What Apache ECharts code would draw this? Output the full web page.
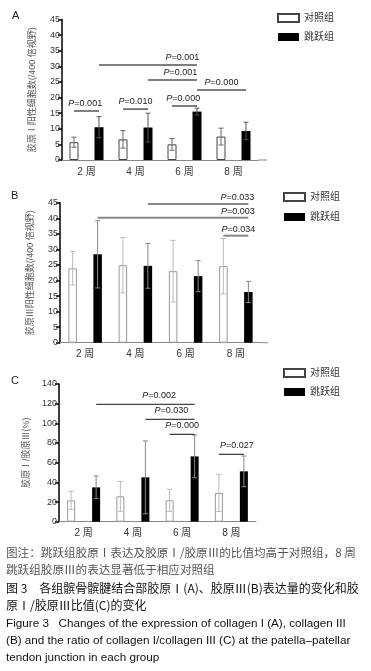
<!DOCTYPE html>
<html>
<head>
<meta charset="utf-8">
<script src="https://cdn.jsdelivr.net/npm/echarts@6/dist/echarts.min.js"></script>
<style>
  body { margin: 0; background: #fff; }
  #main { position: absolute; left: 0; top: 0; width: 371px; height: 545px; }
  #note { position: absolute; left: 6px; top: 544px; width: 365px; white-space: nowrap; }
  #note div { height: 17.4px; line-height: 17.4px; }
  .cn1 { font: 11.6px 'Noto Sans CJK SC', sans-serif; color: #555; }
  .cn2 { font: 12px 'Noto Sans CJK SC', sans-serif; color: #111; }
  .en { font: 11.7px 'Liberation Sans', Arial, sans-serif; color: #111; }
</style>
</head>
<body>
<div id="main"></div>
<div id="note">
  <div class="cn1">图注：跳跃组胶原Ⅰ表达及胶原Ⅰ/胶原Ⅲ的比值均高于对照组，8 周</div>
  <div class="cn1">跳跃组胶原Ⅲ的表达显著低于相应对照组</div>
  <div class="cn2">图 3&emsp;各组髌骨髌腱结合部胶原Ⅰ(A)、胶原Ⅲ(B)表达量的变化和胶</div>
  <div class="cn2">原Ⅰ/胶原Ⅲ比值(C)的变化</div>
  <div class="en">Figure 3&nbsp;&nbsp; Changes of the expression of collagen I (A), collagen III</div>
  <div class="en">(B) and the ratio of collagen I/collagen III (C) at the patella–patellar</div>
  <div class="en">tendon junction in each group</div>
</div>
<script>
var weeks = ['2 周', '4 周', '6 周', '8 周'];
var groups = ['对照组', '跳跃组'];

// A: 胶原I阳性细胞数
var aCtrl = [5.7, 6.6, 5.0, 7.5];
var aCtrlSd = [1.6, 2.8, 1.9, 2.7];
var aJump = [10.5, 10.4, 15.5, 9.3];
var aJumpSd = [3.4, 4.6, 1.1, 2.8];
// B: 胶原III阳性细胞数
var bCtrl = [23.9, 24.9, 23.0, 24.6];
var bCtrlSd = [5.4, 8.9, 9.9, 8.9];
var bJump = [28.4, 24.7, 21.4, 16.3];
var bJumpSd = [10.8, 7.2, 5.0, 3.4];
// C: 胶原I/胶原III
var cCtrl = [21.7, 25.8, 21.7, 29.2];
var cCtrlSd = [9.1, 15.2, 11.2, 18.9];
var cJump = [34.9, 45.1, 66.4, 51.2];
var cJumpSd = [11.5, 37.0, 21.7, 15.6];

// 比较: [起始周, 起始组(0对照/1跳跃), 终止周, 终止组, 线高度, P值]
var aSig = [
  [0, 1, 2, 1, 30.4, '0.001'],
  [1, 1, 2, 1, 25.6, '0.001'],
  [2, 1, 3, 1, 22.4, '0.000'],
  [2, 0, 2, 1, 17.3, '0.000'],
  [0, 0, 0, 1, 15.7, '0.001'],
  [1, 0, 1, 1, 16.3, '0.010']
];
var bSig = [
  [1, 1, 3, 1, 44.6, '0.033'],
  [0, 1, 3, 1, 40.2, '0.003'],
  [3, 0, 3, 1, 34.4, '0.034']
];
var cSig = [
  [0, 1, 2, 1, 119.3, '0.002'],
  [1, 1, 2, 1, 104.1, '0.030'],
  [2, 0, 2, 1, 88.8, '0.000'],
  [3, 0, 3, 1, 68.5, '0.027']
];

var FONT = "'Liberation Sans', 'Noto Sans CJK SC', sans-serif";

// 版面样式
var panels = [
  { key: 'A', grid: { left: 62, top: 19.5, width: 196, height: 140.5 }, ext: 9, max: 45, interval: 5,
    name: '胶原Ⅰ阳性细胞数(/400 倍视野)', nameGap: 25, barWidth: 9, gap: 16,
    ctrl: aCtrl, ctrlSd: aCtrlSd, jump: aJump, jumpSd: aJumpSd, sig: aSig,
    sigPos: [0.85, 0.66, 0.5, 0.45, 0.45, 0.5], textGap: 3,
    border: '#444', errCtrl: '#666', errJump: '#555', sigColor: '#555', sigWidth: 1.5,
    title: { left: 12, top: 10 }, legend: { left: 277, top: 13, gap: 9 } },
  { key: 'B', grid: { left: 60, top: 202.7, width: 201, height: 140 }, ext: 7, max: 45, interval: 5,
    name: '胶原Ⅲ阳性细胞数(/400 倍视野)', nameGap: 25, barWidth: 8.5, gap: 16.5,
    ctrl: bCtrl, ctrlSd: bCtrlSd, jump: bJump, jumpSd: bJumpSd, sig: bSig,
    sigPos: [0.89, 0.93, 0.6], textGap: 2,
    border: '#999', errCtrl: '#bbb', errJump: '#888', sigColor: '#888', sigWidth: 2,
    title: { left: 11, top: 190 }, legend: { left: 283, top: 192, gap: 10 } },
  { key: 'C', grid: { left: 59, top: 384, width: 197, height: 137.7 }, ext: -3, max: 140, interval: 20,
    name: '胶原Ⅰ/胶原Ⅲ(%)', nameGap: 25, barWidth: 8, gap: 17,
    ctrl: cCtrl, ctrlSd: cCtrlSd, jump: cJump, jumpSd: cJumpSd, sig: cSig,
    sigPos: [0.64, 0.53, 0.5, 0.72], textGap: 4,
    border: '#999', errCtrl: '#bbb', errJump: '#888', sigColor: '#444', sigWidth: 1.3,
    title: { left: 11, top: 375 }, legend: { left: 283, top: 368, gap: 9 } }
];

function errorItem(means, sds, side, p, color) {
  return function (params, api) {
    var i = params.dataIndex;
    var off = side * (p.barWidth + p.gap) / 2;
    var hi = api.coord([i, means[i] + sds[i]]);
    var lo = api.coord([i, Math.max(means[i] - sds[i], 0)]);
    var x = hi[0] + off;
    var st = { stroke: color, lineWidth: 1 };
    return {
      type: 'group',
      children: [
        { type: 'line', shape: { x1: x, y1: hi[1], x2: x, y2: lo[1] }, style: st },
        { type: 'line', shape: { x1: x - 2.5, y1: hi[1], x2: x + 2.5, y2: hi[1] }, style: st },
        { type: 'line', shape: { x1: x - 2.5, y1: lo[1], x2: x + 2.5, y2: lo[1] }, style: st }
      ]
    };
  };
}

function sigItem(p) {
  return function (params, api) {
    var s = p.sig[params.dataIndex];
    var half = (p.barWidth + p.gap) / 2;
    var a = api.coord([s[0], s[4]]);
    var b = api.coord([s[2], s[4]]);
    var x1 = a[0] + (s[1] ? half : -half);
    var x2 = b[0] + (s[3] ? half : -half);
    var y = a[1];
    var tx = x1 + (x2 - x1) * p.sigPos[params.dataIndex];
    return {
      type: 'group',
      children: [
        { type: 'line', shape: { x1: x1, y1: y, x2: x2, y2: y },
          style: { stroke: p.sigColor, lineWidth: p.sigWidth } },
        { type: 'text', style: {
            x: tx, y: y - p.textGap, text: '{i|P}=' + s[5], align: 'center', verticalAlign: 'bottom',
            fontSize: 9, fontFamily: FONT, fill: '#222',
            rich: { i: { fontStyle: 'italic', fontSize: 9, fontFamily: FONT, fill: '#222' } }
          } }
      ]
    };
  };
}

var option = { animation: false, grid: [], xAxis: [], yAxis: [], series: [], legend: [], title: [], graphic: [] };

panels.forEach(function (p, g) {
  option.grid.push(p.grid);
  option.title.push({ text: p.key, left: p.title.left, top: p.title.top, padding: 0,
    textStyle: { fontSize: 11, fontWeight: 'normal', color: '#222', fontFamily: FONT } });
  option.legend.push({
    left: p.legend.left, top: p.legend.top, orient: 'vertical', padding: 0,
    itemWidth: 21, itemHeight: 8, itemGap: p.legend.gap, selectedMode: false, icon: 'rect',
    data: groups, textStyle: { fontSize: 10, color: '#333', fontFamily: FONT }
  });
  option.xAxis.push({
    type: 'category', gridIndex: g, data: weeks,
    axisLine: { lineStyle: { color: '#888', width: 1 } },
    axisTick: { show: false },
    axisLabel: { fontSize: 10, color: '#333', margin: 7, fontFamily: FONT }
  });
  option.yAxis.push({
    type: 'value', gridIndex: g, min: 0, max: p.max, interval: p.interval,
    name: p.name, nameLocation: 'middle', nameGap: p.nameGap,
    nameTextStyle: { fontSize: 9, color: '#555', fontFamily: FONT },
    axisLine: { show: true, lineStyle: { color: '#000', width: 1.5 } },
    axisTick: { show: true, length: 4, lineStyle: { color: '#000', width: 1.5 } },
    axisLabel: { fontSize: 9, color: '#333', margin: 2, fontFamily: FONT },
    splitLine: { show: false }
  });
  var barGap = (p.gap / p.barWidth * 100) + '%';
  option.series.push(
    { type: 'bar', name: groups[0], xAxisIndex: g, yAxisIndex: g, data: p.ctrl,
      barWidth: p.barWidth, barGap: barGap,
      itemStyle: { color: '#fff', borderColor: p.border, borderWidth: 1 } },
    { type: 'bar', name: groups[1], xAxisIndex: g, yAxisIndex: g, data: p.jump,
      barWidth: p.barWidth, barGap: barGap,
      itemStyle: { color: '#000' } },
    { type: 'custom', xAxisIndex: g, yAxisIndex: g, z: 5, silent: true,
      data: p.ctrl.map(function (v, i) { return [i, v + p.ctrlSd[i]]; }), encode: { x: 0, y: 1 },
      renderItem: errorItem(p.ctrl, p.ctrlSd, -1, p, p.errCtrl) },
    { type: 'custom', xAxisIndex: g, yAxisIndex: g, z: 5, silent: true,
      data: p.jump.map(function (v, i) { return [i, v + p.jumpSd[i]]; }), encode: { x: 0, y: 1 },
      renderItem: errorItem(p.jump, p.jumpSd, 1, p, p.errJump) },
    { type: 'custom', xAxisIndex: g, yAxisIndex: g, z: 6, silent: true,
      data: p.sig.map(function (s) { return [s[0], s[4]]; }), encode: { x: 0, y: 1 },
      renderItem: sigItem(p) }
  );
  if (p.ext > 0) {
    var gx = p.grid.left + p.grid.width, gy = p.grid.top + p.grid.height;
    option.graphic.push({ type: 'line', shape: { x1: gx, y1: gy, x2: gx + p.ext, y2: gy },
      style: { stroke: '#888', lineWidth: 1 } });
  }
});

var chart = echarts.init(document.getElementById('main'));
chart.setOption(option);
</script>
</body>
</html>
